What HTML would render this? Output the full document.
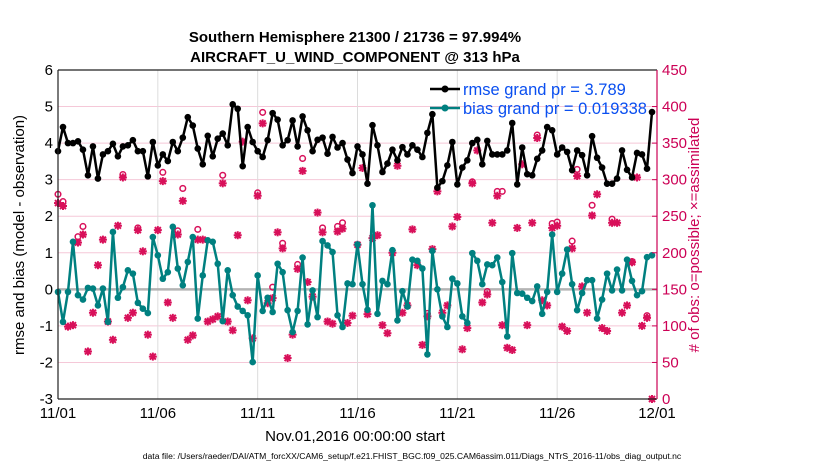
<!DOCTYPE html>
<html><head><meta charset="utf-8"><style>
body{margin:0;background:#fff;width:830px;height:470px;overflow:hidden}
svg{font-family:"Liberation Sans",sans-serif}
</style></head><body>
<svg id="chart" width="830" height="470">
<text x="355" y="42" text-anchor="middle" font-size="15" font-weight="bold">Southern Hemisphere 21300 / 21736 = 97.994%</text>
<text x="355" y="62" text-anchor="middle" font-size="15" font-weight="bold">AIRCRAFT_U_WIND_COMPONENT @ 313 hPa</text>
<g id="grid"></g>
<g id="marks"></g>
<g id="axes"></g>
<text x="355" y="441" text-anchor="middle" font-size="15">Nov.01,2016 00:00:00 start</text>
<text transform="translate(24,235) rotate(-90)" text-anchor="middle" font-size="15">rmse and bias (model - observation)</text>
<text transform="translate(699,235) rotate(-90)" text-anchor="middle" font-size="15" fill="#cc0055"># of obs: o=possible; ×=assimilated</text>
<text x="412" y="459" text-anchor="middle" font-size="8.6">data file: /Users/raeder/DAI/ATM_forcXX/CAM6_setup/f.e21.FHIST_BGC.f09_025.CAM6assim.011/Diags_NTrS_2016-11/obs_diag_output.nc</text>
<g>
<line x1="430" y1="89" x2="460" y2="89" stroke="#000" stroke-width="2.5"/><circle cx="445" cy="89" r="3.5" fill="#000"/>
<text x="463" y="95" font-size="16.5" fill="#0a4ff0">rmse grand pr = 3.789</text>
<line x1="430" y1="108" x2="460" y2="108" stroke="#008080" stroke-width="2.5"/><circle cx="445" cy="108" r="3.5" fill="#008080"/>
<text x="463" y="114" font-size="16.5" fill="#0a4ff0">bias grand pr = 0.019338</text>
</g>
</svg>
<script>
const rmse=[3.78,4.44,4.0,4.0,4.05,3.82,3.12,3.91,3.03,3.69,3.78,3.98,3.64,3.91,3.94,4.08,3.78,3.78,3.09,4.03,3.39,3.69,3.51,4.03,3.78,4.15,4.71,4.48,3.85,3.42,4.2,
3.64,4.12,4.26,3.94,5.06,4.94,3.37,4.44,4.03,3.78,3.62,4.08,4.82,4.64,3.94,4.08,4.62,3.91,4.73,4.35,3.78,4.09,4.15,3.71,4.17,3.88,4.0,3.55,3.18,3.91,
3.69,2.89,4.49,3.94,3.21,3.44,3.82,3.53,3.89,3.69,3.94,3.82,3.62,4.28,4.79,2.78,2.96,3.39,4.03,2.87,3.33,3.53,4.0,4.09,3.42,4.06,3.69,3.69,3.69,3.8,
4.55,2.87,3.88,3.15,3.12,3.57,3.8,4.44,4.35,3.69,3.88,3.76,3.26,3.8,3.67,3.12,4.19,3.6,3.33,2.89,2.89,3.03,3.8,3.27,3.06,3.73,3.69,3.3,4.85];
const bias=[-0.07,-0.89,-0.07,1.3,-0.16,-0.28,0.04,0.02,-0.44,0.02,-0.89,1.57,-0.23,0.06,0.52,0.43,-0.37,-0.53,-0.65,1.43,0.93,0.29,0.47,1.71,0.57,0.11,0.75,1.43,-0.8,0.38,1.34,
1.3,0.7,-0.87,0.52,-0.16,-0.47,-0.59,-0.71,-1.99,0.38,-0.59,-0.23,-0.62,0.7,0.47,-0.57,-1.17,-0.59,0.87,-0.96,-0.03,-0.76,1.32,1.2,1.02,-0.71,-1.03,0.16,0.14,1.23,
0.14,-0.56,2.3,-0.67,0.23,0.14,1.07,-0.85,-0.05,-0.47,0.81,0.78,0.57,-1.78,1.05,0.0,-0.74,-1.03,0.29,0.16,-0.74,-0.92,0.99,0.78,0.14,0.68,0.66,0.87,0.2,-1.29,
0.99,-0.1,-0.12,-0.23,-0.32,0.08,-0.67,-0.07,1.5,-0.07,0.43,1.09,0.14,-0.57,-0.1,0.25,0.25,-0.8,-0.28,0.43,-0.03,0.54,-0.03,0.81,0.23,-0.16,-0.05,0.88,0.93];
const obsUsed=[268,264,99,101,214,225,65,118,183,218,106,81,237,303,111,118,231,202,88,58,231,298,132,111,225,271,81,87,218,218,106,
109,113,295,106,94,224,352,135,83,278,377,131,138,228,206,56,88,178,312,160,140,255,228,106,103,229,233,104,114,211,
316,116,220,224,101,90,200,319,118,128,232,183,74,113,205,284,118,128,236,249,68,97,295,340,132,143,241,278,101,70,
67,234,321,101,241,357,135,128,234,237,99,93,206,305,154,118,251,280,97,93,241,241,118,128,187,303,100,111,0];
const possIdx=[0,1,4,5,13,16,21,24,25,28,33,40,41,43,45,48,49,53,56,57,74,83,86,88,89,96,99,100,103,104,107,111,115,118];
const possVal=[280,270,222,236,307,234,310,230,288,232,306,282,392,153,213,184,329,234,236,241,117,297,147,284,284,361,240,242,216,314,265,246,188,114];
const xTickLabels=["11/01","11/06","11/11","11/16","11/21","11/26","12/01"];
const leftTicks=[-3,-2,-1,0,1,2,3,4,5,6];
const rightTicks=[0,50,100,150,200,250,300,350,400,450];

const X0=58,X1=657,Y0=399,Y1=70;
const xs=d=>X0+(X1-X0)*d/30;
const yL=v=>Y0-(Y0-Y1)*(v+3)/9;
const yR=v=>Y0-(Y0-Y1)*v/450;
const NS="http://www.w3.org/2000/svg";
function mk(parent,tag,attrs){const e=document.createElementNS(NS,tag);for(const k in attrs)e.setAttribute(k,attrs[k]);parent.appendChild(e);return e;}
const grid=document.getElementById('grid'),marks=document.getElementById('marks'),axes=document.getElementById('axes');
leftTicks.forEach(v=>{const l=mk(grid,'line',{x1:X0,x2:X1,y1:yL(v),y2:yL(v),stroke:'#f5c8d8','stroke-width':1});


const t=mk(axes,'text',{x:X0-5,y:yL(v)+5,'text-anchor':'end','font-size':15});t.textContent=v;

});
xTickLabels.forEach((s,i)=>{const x=xs(i*5);const l=mk(grid,'line',{x1:x,x2:x,y1:Y1,y2:Y0,stroke:'#dcdcdc','stroke-width':1});


const t=mk(axes,'text',{x:x,y:418,'text-anchor':'middle','font-size':15});t.textContent=s;

});
rightTicks.forEach(v=>{mk(axes,'line',{x1:X1,x2:X1-5,y1:yR(v),y2:yR(v),stroke:'#cc0055'});
const t=mk(axes,'text',{x:X1+5,y:yR(v)+5,'font-size':15,fill:'#cc0055'});t.textContent=v;

});
const z=mk(grid,'line',{x1:X0,x2:X1,y1:yL(0),y2:yL(0),stroke:'#b4b4b4','stroke-width':2.5});


possIdx.forEach((i,k)=>{const c=mk(marks,'circle',{cx:xs(i*0.25),cy:yR(possVal[k]),r:2.8,fill:'none',stroke:'#d8105a','stroke-width':1.5});

});
obsUsed.forEach((v,i)=>{const g=mk(marks,'g',{transform:`translate(${xs(i*0.25)},${yR(v)})`,stroke:'#d8105a','stroke-width':2});


mk(g,'line',{x1:-4,x2:4,y1:0,y2:0});mk(g,'line',{x1:0,x2:0,y1:-4,y2:4});mk(g,'line',{x1:-3,x2:3,y1:-3,y2:3});mk(g,'line',{x1:-3,x2:3,y1:3,y2:-3});});
function series(arr,color,name){const p=mk(marks,'polyline',{points:arr.map((v,i)=>xs(i*0.25)+','+yL(v)).join(' '),fill:'none',stroke:color,'stroke-width':2.5,'stroke-linejoin':'round'});


arr.forEach((v,i)=>{const c=mk(marks,'circle',{cx:xs(i*0.25),cy:yL(v),r:3.3,fill:color});

});}
series(bias,'#008080','bias');
series(rmse,'#000000','rmse');
mk(axes,'line',{x1:X0,x2:X1,y1:Y1,y2:Y1,stroke:'#222','stroke-width':1.2});
mk(axes,'line',{x1:X0,x2:X1,y1:Y0,y2:Y0,stroke:'#222','stroke-width':1.2});
mk(axes,'line',{x1:X0,x2:X0,y1:Y1,y2:Y0,stroke:'#222','stroke-width':1.2});
mk(axes,'line',{x1:X1,x2:X1,y1:Y1,y2:Y0,stroke:'#cc0055','stroke-width':1.2});
</script>
</body></html>
